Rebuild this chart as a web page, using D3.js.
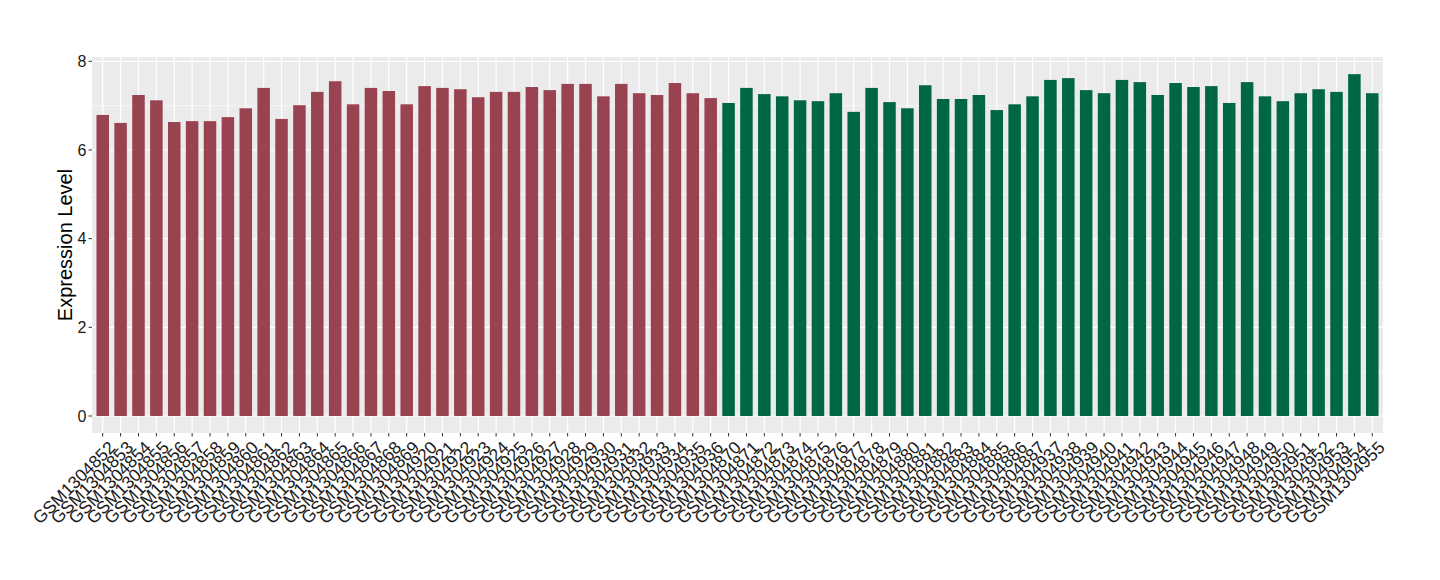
<!DOCTYPE html>
<html>
<head>
<meta charset="utf-8">
<script src="https://cdn.jsdelivr.net/npm/d3@7"></script>
<style>
  body { margin: 0; background: #fff; }
  svg text { font-family: "Liberation Sans", Arial, sans-serif; }
</style>
</head>
<body>
<svg id="chart" width="1440" height="580"></svg>
<script>
const groupA = ["GSM1304852","GSM1304853","GSM1304854","GSM1304855","GSM1304856","GSM1304857","GSM1304858","GSM1304859","GSM1304860","GSM1304861","GSM1304862","GSM1304863","GSM1304864","GSM1304865","GSM1304866","GSM1304867","GSM1304868","GSM1304869","GSM1304920","GSM1304921","GSM1304922","GSM1304923","GSM1304924","GSM1304925","GSM1304926","GSM1304927","GSM1304928","GSM1304929","GSM1304930","GSM1304931","GSM1304932","GSM1304933","GSM1304934","GSM1304935","GSM1304936"];
const valuesA = [6.79,6.61,7.24,7.12,6.63,6.65,6.65,6.74,6.94,7.40,6.70,7.01,7.31,7.55,7.03,7.40,7.33,7.03,7.44,7.40,7.37,7.19,7.31,7.31,7.42,7.35,7.49,7.49,7.21,7.49,7.28,7.24,7.51,7.28,7.17];

const groupB = ["GSM1304870","GSM1304871","GSM1304872","GSM1304873","GSM1304874","GSM1304875","GSM1304876","GSM1304877","GSM1304878","GSM1304879","GSM1304880","GSM1304881","GSM1304882","GSM1304883","GSM1304884","GSM1304885","GSM1304886","GSM1304887","GSM1304937","GSM1304938","GSM1304939","GSM1304940","GSM1304941","GSM1304942","GSM1304943","GSM1304944","GSM1304945","GSM1304946","GSM1304947","GSM1304948","GSM1304949","GSM1304950","GSM1304951","GSM1304952","GSM1304953","GSM1304954","GSM1304955"];
const valuesB = [7.06,7.40,7.26,7.21,7.12,7.10,7.28,6.86,7.40,7.08,6.94,7.46,7.15,7.15,7.24,6.90,7.03,7.21,7.58,7.62,7.35,7.28,7.58,7.53,7.24,7.51,7.42,7.44,7.06,7.53,7.21,7.10,7.28,7.37,7.31,7.71,7.28];

const yTicks = [0, 2, 4, 6, 8];
const yMinor = [1, 3, 5, 7];
const colorA = "#9A4350", colorB = "#006743";

const data = groupA.map((s, i) => ({ sample: s, value: valuesA[i], color: colorA }))
  .concat(groupB.map((s, i) => ({ sample: s, value: valuesB[i], color: colorB })));

const svg = d3.select("#chart");
const pLeft = 92, pRight = 1383, pTop = 57, pBottom = 433;

// point scale with 0.6 step padding on each side (ggplot discrete expansion)
const x = d3.scalePoint()
  .domain(data.map(d => d.sample))
  .range([pLeft, pRight])
  .padding(0.6);
const barW = x.step() * 0.7;

const y = d3.scaleLinear().domain([0, 8]).range([416, 61.3]);

svg.append("rect")
  .attr("x", pLeft).attr("y", pTop)
  .attr("width", pRight - pLeft).attr("height", pBottom - pTop)
  .attr("fill", "#EBEBEB");

// minor grid
svg.append("g").selectAll("line")
  .data(yMinor)
  .join("line")
  .attr("x1", pLeft).attr("x2", pRight)
  .attr("y1", d => y(d)).attr("y2", d => y(d))
  .attr("stroke", "#fff").attr("stroke-width", 0.6);

// major grid
svg.append("g").selectAll("line")
  .data(yTicks)
  .join("line")
  .attr("x1", pLeft).attr("x2", pRight)
  .attr("y1", d => y(d)).attr("y2", d => y(d))
  .attr("stroke", "#fff").attr("stroke-width", 1.2);

svg.append("g").selectAll("line")
  .data(data)
  .join("line")
  .attr("x1", d => x(d.sample)).attr("x2", d => x(d.sample))
  .attr("y1", pTop).attr("y2", pBottom)
  .attr("stroke", "#fff").attr("stroke-width", 1.2);

// bars
svg.append("g").selectAll("rect")
  .data(data)
  .join("rect")
  .attr("x", d => x(d.sample) - barW / 2)
  .attr("width", barW)
  .attr("y", d => y(d.value))
  .attr("height", d => y(0) - y(d.value))
  .attr("fill", d => d.color);

// y axis
const gy = svg.append("g");
gy.selectAll("line")
  .data(yTicks)
  .join("line")
  .attr("x1", pLeft - 3.5).attr("x2", pLeft)
  .attr("y1", d => y(d)).attr("y2", d => y(d))
  .attr("stroke", "#333").attr("stroke-width", 1);
gy.selectAll("text")
  .data(yTicks)
  .join("text")
  .attr("x", pLeft - 5.5)
  .attr("y", d => y(d))
  .attr("dy", "0.36em")
  .attr("text-anchor", "end")
  .attr("font-size", 16)
  .attr("fill", "#1a1a1a")
  .text(d => d);

// x axis
const gx = svg.append("g");
gx.selectAll("line")
  .data(data)
  .join("line")
  .attr("x1", d => x(d.sample)).attr("x2", d => x(d.sample))
  .attr("y1", pBottom).attr("y2", pBottom + 3.5)
  .attr("stroke", "#333").attr("stroke-width", 1);
gx.selectAll("text")
  .data(data)
  .join("text")
  .attr("transform", d => `translate(${x(d.sample) + 5},${pBottom + 7}) rotate(-45)`)
  .attr("text-anchor", "end")
  .attr("dy", "0.7em")
  .attr("font-size", 17.5)
  .attr("fill", "#1a1a1a")
  .text(d => d.sample);

svg.append("text")
  .attr("transform", `translate(71.5,${(pTop + pBottom) / 2}) rotate(-90)`)
  .attr("text-anchor", "middle")
  .attr("font-size", 20)
  .attr("fill", "#000")
  .text("Expression Level");
</script>
</body>
</html>
